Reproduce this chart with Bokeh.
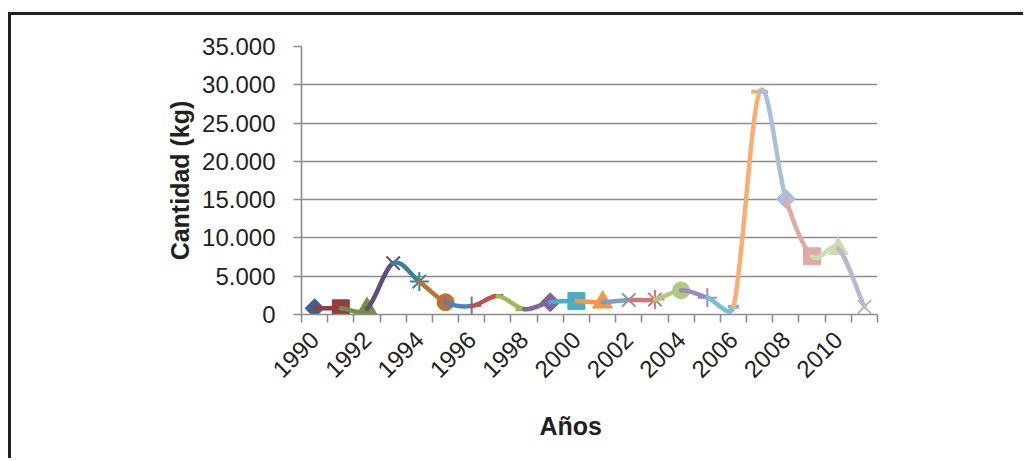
import math
from bokeh.plotting import figure
from bokeh.models import FixedTicker, Range1d, Title
from bokeh.embed import file_html
from bokeh.resources import INLINE

# ---------------- data ----------------
years = list(range(1990, 2012))
values = [800, 800, 750, 6700, 4300, 1600, 1100, 2400, 700, 1600, 1750, 1600,
          1900, 1950, 3150, 2200, 1000, 29100, 15100, 7600, 8600, 1000]
y_ticks = [0, 5000, 10000, 15000, 20000, 25000, 30000, 35000]
y_tick_labels = ["0", "5.000", "10.000", "15.000", "20.000", "25.000", "30.000", "35.000"]
x_label_years = [1990, 1992, 1994, 1996, 1998, 2000, 2002, 2004, 2006, 2008, 2010]
x_tick_labels = ["1990", "1992", "1994", "1996", "1998", "2000", "2002", "2004", "2006", "2008", "2010"]

# ---------------- styles ----------------
markers = ["diamond", "square", "triangle", "x", "asterisk", "circle", "cross", "dash", "longdash",
           "diamond", "square", "triangle", "x", "asterisk", "circle", "cross", "dash", "longdash",
           "diamond", "square", "triangle", "x"]
colors = ["#3C6290", "#923D3B", "#768E44", "#614C7B", "#398397", "#BC7235",
          "#4F81BD", "#C0504D", "#9BBB59", "#8064A2", "#4BACC6", "#F79646",
          "#779ECC", "#CF7876", "#B2CA7F", "#9D88B7", "#74BFD3", "#F9AE71",
          "#A7C0DE", "#E0A8A6", "#CDDDAC", "#C0B2D1"]

FONT = "Liberation Sans"
GRID = "#8C8C8C"
X0, X1 = years[0] - 0.5, years[-1] + 0.5
Y0, Y1 = y_ticks[0], y_ticks[-1]
FRAME_W, FRAME_H = 576, 268

p = figure(width=1015, height=446, output_backend="svg", toolbar_location=None,
           x_range=Range1d(X0, X1), y_range=Range1d(Y0, Y1),
           min_border_left=290, min_border_right=149, min_border_top=31, min_border_bottom=147)
p.styles = {"border-top": "3px solid #231f20", "border-left": "3px solid #231f20",
            "margin-top": "12px", "margin-left": "8px"}
p.background_fill_color = "white"
p.border_fill_color = "white"
p.outline_line_color = None

# grid
p.xgrid.visible = False
p.ygrid.ticker = FixedTicker(ticks=y_ticks)
p.ygrid.grid_line_color = GRID
p.ygrid.grid_line_width = 1.6

# y axis
ya = p.yaxis[0]
ya.ticker = FixedTicker(ticks=y_ticks)
ya.major_label_overrides = {t: l for t, l in zip(y_ticks, y_tick_labels)}
ya.axis_line_color = GRID
ya.axis_line_width = 1.6
ya.major_tick_line_color = GRID
ya.major_tick_line_width = 1.6
ya.major_tick_out = 8
ya.major_tick_in = 0
ya.minor_tick_line_color = None
ya.major_label_text_font = FONT
ya.major_label_text_font_size = "24px"
ya.major_label_text_color = "#231f20"
ya.major_label_standoff = 18
ya.axis_label = "Cantidad (kg)"
ya.axis_label_text_font = FONT
ya.axis_label_text_font_size = "25px"
ya.axis_label_text_font_style = "bold"
ya.axis_label_text_color = "#231f20"
ya.axis_label_standoff = 5

# x axis
xa = p.xaxis[0]
xa.ticker = FixedTicker(ticks=x_label_years, minor_ticks=[y - 0.5 for y in years] + [years[-1] + 0.5])
xa.major_label_overrides = {t: l for t, l in zip(x_label_years, x_tick_labels)}
xa.major_label_orientation = math.pi / 4
xa.axis_line_color = GRID
xa.axis_line_width = 1.6
xa.major_tick_line_color = None
xa.major_tick_out = 0
xa.major_tick_in = 0
xa.minor_tick_line_color = GRID
xa.minor_tick_line_width = 1.6
xa.minor_tick_out = 8
xa.minor_tick_in = 0
xa.major_label_text_font = FONT
xa.major_label_text_font_size = "24px"
xa.major_label_text_color = "#231f20"
xa.major_label_standoff = 13

# x-axis title, as a title below the axis (a little left of the plot centre, like the original)
p.add_layout(Title(text="Años", align="left", offset=238, standoff=43,
                   text_font=FONT, text_font_size="25px", text_font_style="bold",
                   text_color="#231f20"), "below")

# ---------------- smoothed line (Excel-like Bezier, computed in pixel space) ----------------
sx = FRAME_W / (X1 - X0)
sy = FRAME_H / (Y1 - Y0)
pts = [(x * sx, v * sy) for x, v in zip(years, values)]


def seg_ctrl(i):
    n = len(pts)
    p0 = pts[i - 1] if i > 0 else pts[i]
    p1, p2 = pts[i], pts[i + 1]
    p3 = pts[i + 2] if i + 2 < n else pts[i + 1]
    d12 = math.hypot(p2[0] - p1[0], p2[1] - p1[1])
    f1 = 1 / 6 if i > 0 else 1 / 3
    f2 = 1 / 6 if i + 2 < n else 1 / 3
    t1 = [(p2[0] - p0[0]) * f1, (p2[1] - p0[1]) * f1]
    t2 = [(p3[0] - p1[0]) * f2, (p3[1] - p1[1]) * f2]
    for t in (t1, t2):
        L = math.hypot(t[0], t[1])
        if L > d12 / 2 and L > 0:
            k = (d12 / 2) / L
            t[0] *= k
            t[1] *= k
    c1 = (p1[0] + t1[0], p1[1] + t1[1])
    c2 = (p2[0] - t2[0], p2[1] - t2[1])
    return (c1[0] / sx, c1[1] / sy, c2[0] / sx, c2[1] / sy)


for i in range(len(years)):
    col = colors[i]
    if i > 0:
        cx0, cy0, cx1, cy1 = seg_ctrl(i - 1)
        p.bezier(x0=[years[i - 1]], y0=[values[i - 1]], x1=[years[i]], y1=[values[i]],
                 cx0=[cx0], cy0=[cy0], cx1=[cx1], cy1=[cy1],
                 line_color=col, line_width=4.5, line_cap="round")
    m = markers[i]
    if m == "diamond":
        p.scatter([years[i]], [values[i]], marker="square", angle=math.pi / 4, size=13.5,
                  fill_color=col, line_color=col, line_width=1)
    elif m in ("square", "circle"):
        p.scatter([years[i]], [values[i]], marker=m, size=17,
                  fill_color=col, line_color=col, line_width=1)
    elif m == "triangle":
        p.scatter([years[i]], [values[i]], marker="triangle", size=20,
                  fill_color=col, line_color=col, line_width=1)
    elif m in ("x", "asterisk", "cross"):
        p.scatter([years[i]], [values[i]], marker=m, size=19,
                  fill_color=None, line_color=col, line_width=2)
    elif m == "dash":
        p.scatter([years[i]], [values[i]], marker="dash", size=11,
                  line_color=col, line_width=4)
    elif m == "longdash":
        p.scatter([years[i]], [values[i]], marker="dash", size=17,
                  line_color=col, line_width=4)

open("out.html", "w").write(file_html(p, INLINE))
